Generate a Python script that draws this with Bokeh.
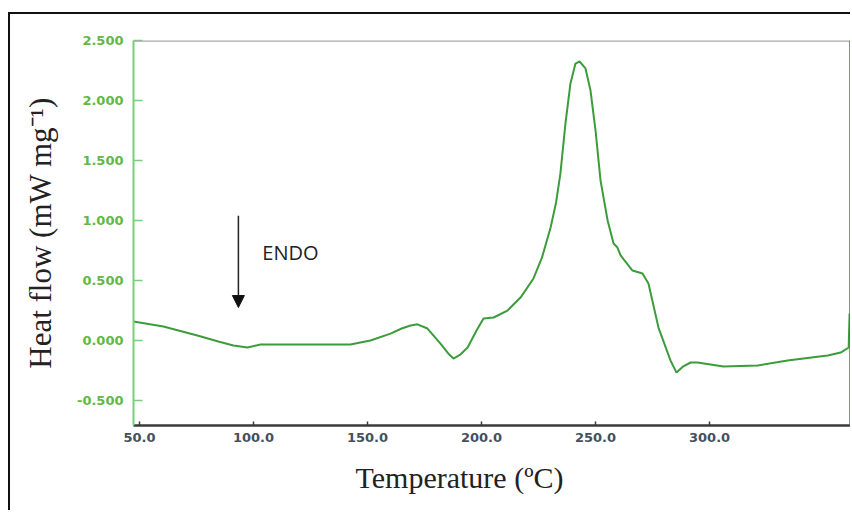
from bokeh.plotting import figure
from bokeh.models import (Range1d, NumeralTickFormatter, FixedTicker, Label, Arrow,
                          NormalHead, Span, Title)
from bokeh.embed import file_html
from bokeh.resources import INLINE

# DSC curve
temperature = [47.4, 60.5, 75.4, 85.0, 91.2, 97.4, 103.1, 120.0, 142.5, 151.3, 160.1, 165.0,
               168.9, 171.9, 176.3, 182.0, 185.5, 187.7, 190.5, 193.9, 198.0, 200.9, 205.3,
               211.4, 217.1, 222.8, 226.5, 230.3, 232.7, 234.6, 236.8, 239.0, 241.2, 243.0,
               245.6, 247.8, 250.0, 252.2, 255.3, 257.9, 259.6, 261.0, 266.2, 270.6, 273.2,
               277.6, 282.9, 285.5, 288.5, 291.7, 294.7, 306.1, 321.1, 334.2, 351.8, 357.5,
               361.0, 361.4]
heat_flow = [0.158, 0.117, 0.042, -0.010, -0.042, -0.058, -0.033, -0.033, -0.033, 0.000,
             0.058, 0.100, 0.125, 0.135, 0.100, -0.025, -0.110, -0.150, -0.120, -0.058,
             0.090, 0.183, 0.192, 0.250, 0.358, 0.517, 0.690, 0.942, 1.150, 1.392, 1.808,
             2.142, 2.308, 2.325, 2.267, 2.083, 1.750, 1.333, 1.000, 0.808, 0.775, 0.710,
             0.583, 0.558, 0.475, 0.108, -0.167, -0.267, -0.215, -0.183, -0.183, -0.217,
             -0.208, -0.167, -0.125, -0.100, -0.058, 0.225]

x_ticks = [50, 100, 150, 200, 250, 300]
y_ticks = [-0.5, 0.0, 0.5, 1.0, 1.5, 2.0, 2.5]

x_start, x_end = 47.4, 361.8
y_start, y_end = -0.708, 2.5

p = figure(width=842, height=498, output_backend="svg", toolbar_location=None,
           x_range=Range1d(x_start, x_end), y_range=Range1d(y_start, y_end),
           min_border_left=123, min_border_top=26, min_border_right=2,
           min_border_bottom=87)
p.styles = {"margin-top": "12px", "margin-left": "8px",
            "border-top": "2px solid #111111", "border-left": "2px solid #111111"}

p.grid.visible = False
p.background_fill_color = "white"
p.border_fill_color = "white"
p.outline_line_color = None

# y axis (green)
ya = p.yaxis[0]
ya.ticker = FixedTicker(ticks=y_ticks)
ya.formatter = NumeralTickFormatter(format="0.000")
ya.axis_line_color = "#7ccd7c"
ya.axis_line_width = 2
ya.major_tick_line_color = "#7ccd7c"
ya.major_tick_line_width = 1.5
ya.major_tick_in = 9
ya.major_tick_out = 0
ya.minor_tick_line_color = None
ya.major_label_text_color = "#62b844"
ya.major_label_text_font = "DejaVu Sans"
ya.major_label_text_font_style = "bold"
ya.major_label_text_font_size = "13px"
ya.major_label_standoff = 10
ya.axis_label = "Heat flow (mW mg⁻¹)"
ya.axis_label_text_font = "Liberation Serif"
ya.axis_label_text_font_style = "normal"
ya.axis_label_text_font_size = "31px"
ya.axis_label_text_color = "#222222"
ya.axis_label_standoff = 16

# x axis (dark)
xa = p.xaxis[0]
xa.ticker = FixedTicker(ticks=x_ticks)
xa.formatter = NumeralTickFormatter(format="0.0")
xa.axis_line_color = "#3a3a3a"
xa.axis_line_width = 2.5
xa.major_tick_line_color = "#3a3a3a"
xa.major_tick_line_width = 1.5
xa.major_tick_in = 4
xa.major_tick_out = 0
xa.minor_tick_line_color = None
xa.major_label_text_color = "#44505e"
xa.major_label_text_font = "DejaVu Sans"
xa.major_label_text_font_style = "bold"
xa.major_label_text_font_size = "13px"
xa.major_label_standoff = 7

# x axis title, placed like the original (left of centre)
p.add_layout(Title(text="Temperature (ºC)", align="left", offset=222,
                   text_font="Liberation Serif", text_font_style="normal",
                   text_font_size="30px", text_color="#222222", standoff=29), "below")

# frame top (gray) and right (blue)
p.add_layout(Span(location=y_end, dimension="width", line_color="#aaaaaa", line_width=2.5))
p.add_layout(Span(location=x_end, dimension="height", line_color="#5a5ad0", line_width=2.5))

p.line(temperature, heat_flow, line_color="#3c9c3c", line_width=2)

# ENDO annotation
p.add_layout(Arrow(x_start=93.4, y_start=1.04, x_end=93.4, y_end=0.275,
                   line_color="#222222", line_width=1.5,
                   end=NormalHead(size=12, fill_color="#111111", line_color="#111111")))
p.add_layout(Label(x=103.9, y=0.733, text="ENDO", text_align="left", text_baseline="middle",
                   text_font="Open Sans", text_font_size="20px", text_color="#222222"))

open("out.html", "w").write(file_html(p, INLINE))
